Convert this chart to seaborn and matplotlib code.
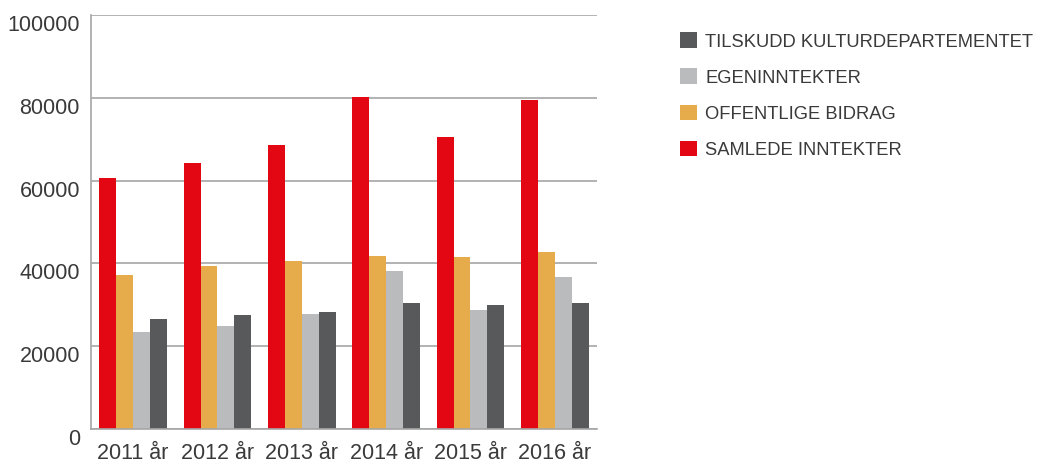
import matplotlib
matplotlib.use("Agg")
import matplotlib.pyplot as plt
import pandas as pd
import seaborn as sns

years = ["2011 år", "2012 år", "2013 år", "2014 år", "2015 år", "2016 år"]
samlede = [60600, 64200, 68550, 80100, 70500, 79400]
offentlige = [37200, 39300, 40600, 41800, 41550, 42750]
egen = [23450, 24900, 27800, 38200, 28750, 36750]
tilskudd = [26600, 27550, 28300, 30450, 29950, 30450]

series = {
    "SAMLEDE INNTEKTER": samlede,
    "OFFENTLIGE BIDRAG": offentlige,
    "EGENINNTEKTER": egen,
    "TILSKUDD KULTURDEPARTEMENTET": tilskudd,
}
colors = ["#E30613", "#E6AC4C", "#BABBBD", "#58595B"]

rows = []
for name, vals in series.items():
    for y, v in zip(years, vals):
        rows.append({"year": y, "serie": name, "value": v})
df = pd.DataFrame(rows)

sns.set_style("white")
plt.rcParams["font.family"] = ["Liberation Sans", "DejaVu Sans"]
text_color = "#3a3a3a"
line_color = "#a6a6a6"

fig = plt.figure(figsize=(10.4, 4.63), dpi=100)
ax = fig.add_axes([0.0875, 0.0728, 0.4865, 0.8954])

sns.barplot(
    data=df, x="year", y="value", hue="serie",
    hue_order=list(series.keys()), palette=colors,
    width=0.8, saturation=1, linewidth=0, ax=ax,
)

ax.set_ylim(0, 100000)
ax.set_xlim(-0.5, len(years) - 0.5)
ax.set_yticks(range(0, 100001, 20000))
ax.set_yticklabels([str(v) for v in range(0, 100001, 20000)], va="top")
ax.set_xlabel("")
ax.set_ylabel("")
ax.yaxis.grid(True, color=line_color, linewidth=1.2)
ax.set_axisbelow(True)

for s in ["top", "right"]:
    ax.spines[s].set_visible(False)
for s in ["left", "bottom"]:
    ax.spines[s].set_color(line_color)
    ax.spines[s].set_linewidth(1.2)

ax.tick_params(axis="y", length=0, pad=8, labelsize=15.5, labelcolor=text_color)
ax.tick_params(axis="x", which="major", length=0, pad=10, labelsize=15.5, labelcolor=text_color)
ax.set_xticks([i + 0.5 for i in range(len(years))], minor=True)
ax.tick_params(axis="x", which="minor", direction="in", length=7, width=1.2, color=line_color)

handles, labels = ax.get_legend_handles_labels()
ax.legend(
    handles[::-1], labels[::-1],
    loc="upper left", bbox_to_anchor=(0.654, 0.93), bbox_transform=fig.transFigure,
    frameon=False, fontsize=13.2, labelcolor=text_color,
    handlelength=0.93, handleheight=0.93, handletextpad=0.45,
    labelspacing=0.98, borderpad=0, borderaxespad=0,
)

fig.savefig("out.png", dpi=100)
